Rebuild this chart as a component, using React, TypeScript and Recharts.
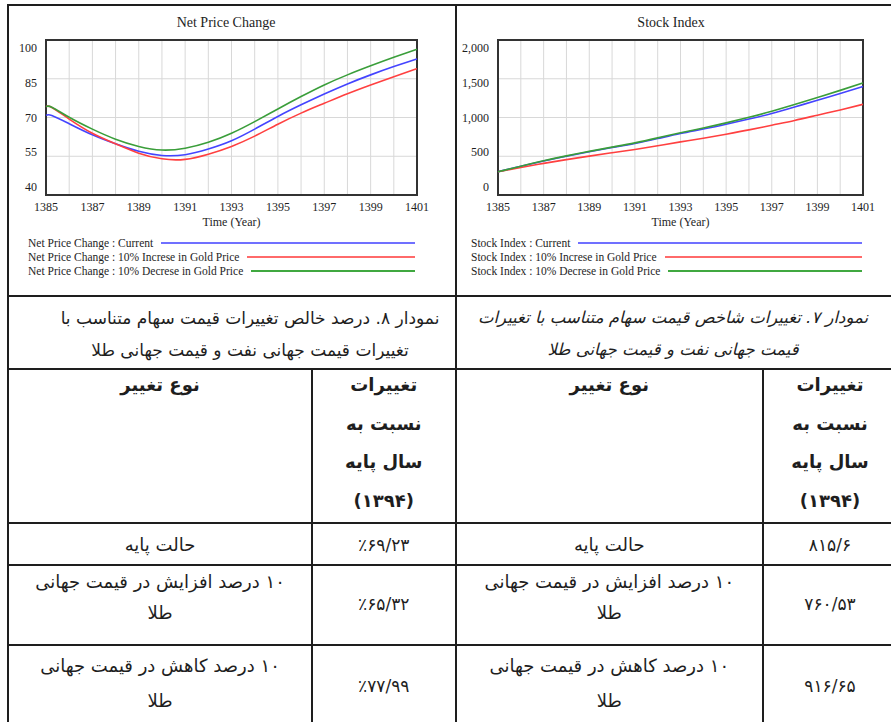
import React from 'react';
import { LineChart, Line, XAxis, YAxis, CartesianGrid, ReferenceArea } from 'recharts';

// simulation time (years)
const times = [1385, 1385.25, 1386, 1387, 1388, 1389, 1390, 1391, 1392, 1393, 1394, 1395, 1396, 1397, 1398, 1399, 1400, 1401];
const years = [1385, 1386, 1387, 1388, 1389, 1390, 1391, 1392, 1393, 1394, 1395, 1396, 1397, 1398, 1399, 1400, 1401];

const netCurrent = [70.8, 70.8, 67.6, 63.3, 59.8, 56.9, 55.3, 55.6, 57.8, 61.0, 65.5, 70.4, 74.9, 79.1, 83.0, 86.5, 89.7, 92.7];
const netIncrease = [74.2, 73.9, 69.4, 63.9, 59.8, 56.2, 54.0, 53.8, 55.8, 58.8, 62.8, 67.4, 71.7, 75.5, 79.2, 82.6, 85.8, 88.9];
const netDecrease = [74.2, 74.0, 70.1, 65.5, 61.6, 58.8, 57.4, 58.1, 60.4, 63.9, 68.4, 73.3, 78.1, 82.6, 86.5, 90.0, 93.3, 96.4];

const stockCurrent = [300, 318, 370, 438, 500, 558, 612, 665, 728, 794, 852, 914, 980, 1051, 1135, 1223, 1310, 1400];
const stockIncrease = [300, 314, 355, 408, 456, 502, 545, 588, 636, 685, 733, 785, 840, 901, 962, 1030, 1098, 1170];
const stockDecrease = [300, 318, 372, 442, 505, 563, 618, 673, 737, 803, 865, 931, 1003, 1081, 1167, 1258, 1350, 1446];

const netTicks = [40, 55, 70, 85, 100];
const stockTicks = [0, 500, 1000, 1500, 2000];

const scenarios = ['Current', '10% Increse in Gold Price', '10% Decrese in Gold Price'];
const colors = ['#4444ff', '#ff4040', '#3a9e3a'];
const legendColors = ['#7070ff', '#ff6a6a', '#40a840'];

// tables under the charts
const leftRows = [
  { label: ['حالت پایه'], value: '٪۶۹/۲۳' },
  { label: ['۱۰ درصد افزایش در قیمت جهانی', 'طلا'], value: '٪۶۵/۳۲' },
  { label: ['۱۰ درصد کاهش در قیمت جهانی', 'طلا'], value: '٪۷۷/۹۹' },
];
const rightRows = [
  { label: ['حالت پایه'], value: '۸۱۵/۶' },
  { label: ['۱۰ درصد افزایش در  قیمت جهانی', 'طلا'], value: '۷۶۰/۵۳' },
  { label: ['۱۰ درصد کاهش در  قیمت جهانی', 'طلا'], value: '۹۱۶/۶۵' },
];
const headValue = ['تغییرات', 'نسبت به', 'سال پایه', '(۱۳۹۴)'];
const headLabel = 'نوع تغییر';

const serif = '"Liberation Serif", "Times New Roman", serif';
const persian = '"DejaVu Sans", sans-serif';
const ink = '#1e1e1e';

const buildRows = (a: number[], b: number[], c: number[]) =>
  times.map((t, i) => ({ t, current: a[i], increase: b[i], decrease: c[i] }));

const netData = buildRows(netCurrent, netIncrease, netDecrease);
const stockData = buildRows(stockCurrent, stockIncrease, stockDecrease);

const keys = ['current', 'increase', 'decrease'];

const PLOT_TOP = 40;
const PLOT_BOTTOM = 195;

function SimChart({ data, domain, ticks, fmt, width, yWidth, right }: any) {
  const mid = (PLOT_TOP + PLOT_BOTTOM) / 2;
  return (
    <LineChart width={width} height={232} data={data} margin={{ top: PLOT_TOP, right, bottom: 0, left: 0 }}>
      <CartesianGrid stroke="#d8d8d8" strokeWidth={1} />
      <XAxis
        dataKey="t"
        type="number"
        domain={[1385, 1401]}
        ticks={years}
        interval={0}
        tickLine={false}
        axisLine={false}
        height={37}
        tick={(p: any) =>
          (p.payload.value - 1385) % 2 === 0 ? (
            <text x={p.x} y={207} textAnchor="middle" dominantBaseline="central" fontSize={12} fontFamily={serif} fill={ink}>
              {p.payload.value}
            </text>
          ) : (
            <g />
          )
        }
        label={{ value: 'Time (Year)', position: 'insideBottom', offset: 6, fontSize: 12, fontFamily: serif, fill: ink }}
      />
      <YAxis
        type="number"
        domain={domain}
        ticks={ticks}
        interval={0}
        tickLine={false}
        axisLine={false}
        width={yWidth}
        tick={(p: any) => (
          <text
            x={yWidth - 9}
            y={mid + (p.y - mid) * 0.9}
            textAnchor="end"
            dominantBaseline="central"
            fontSize={12}
            fontFamily={serif}
            fill={ink}
          >
            {fmt(p.payload.value)}
          </text>
        )}
      />
      {keys.map((k, i) => (
        <Line key={k} type="natural" dataKey={k} stroke={colors[i]} strokeWidth={1.6} dot={false} isAnimationActive={false} />
      ))}
      <ReferenceArea x1={1385} x2={1401} y1={domain[0]} y2={domain[1]} fill="none" stroke="#333" strokeWidth={2} ifOverflow="visible" />
    </LineChart>
  );
}

function SimLegend({ left, width, prefix }: any) {
  return (
    <div style={{ position: 'absolute', left, top: 236, width, fontFamily: serif, fontSize: 11.5, color: ink }}>
      {scenarios.map((s, i) => (
        <div key={s} style={{ display: 'flex', alignItems: 'center', height: 14.2 }}>
          <span style={{ whiteSpace: 'nowrap' }}>{`${prefix} : ${s}`}</span>
          <div style={{ flex: 1, marginLeft: 8, height: 2, background: legendColors[i] }} />
        </div>
      ))}
    </div>
  );
}

const hLine = (y: number, x1: number, x2: number, key: string, w = 1.5) => (
  <div key={key} style={{ position: 'absolute', left: x1, top: y - w / 2, width: x2 - x1, height: w, background: ink }} />
);
const vLine = (x: number, y1: number, y2: number, key: string, w = 1.5) => (
  <div key={key} style={{ position: 'absolute', left: x - w / 2, top: y1, width: w, height: y2 - y1, background: ink }} />
);

function Cell({ x1, x2, top, lines, bold, lh, size, italic }: any) {
  return (
    <div
      dir="rtl"
      style={{
        position: 'absolute',
        left: x1,
        width: x2 - x1,
        top,
        textAlign: 'center',
        fontFamily: persian,
        fontWeight: bold ? 'bold' : 'normal',
        fontStyle: italic ? 'italic' : 'normal',
        fontSize: size,
        lineHeight: `${lh}px`,
        color: ink,
        whiteSpace: 'nowrap',
      }}
    >
      {lines.map((l: string, i: number) => (
        <div key={i}>{l}</div>
      ))}
    </div>
  );
}

// row boundaries of the tables
const rowTops = [523, 565, 645];
const labelTops = [529, 566, 648];
const valueCenters = [545, 604, 686];

function Table({ x1, xm, x2, rows }: any) {
  // x1..xm : change type column, xm..x2 : value column
  return (
    <>
      <Cell x1={x1} x2={xm} top={369} lines={[headLabel]} bold lh={32} size={18} />
      <Cell x1={xm} x2={x2} top={366} lines={headValue} bold lh={38.5} size={18} />
      {rows.map((r: any, i: number) => (
        <React.Fragment key={i}>
          <Cell x1={x1} x2={xm} top={labelTops[i]} lines={r.label} lh={i === 2 ? 35 : 31} size={18} />
          <Cell x1={xm} x2={x2} top={valueCenters[i] - 16} lines={[r.value]} lh={32} size={17} />
        </React.Fragment>
      ))}
    </>
  );
}

export default function App() {
  const grid = [
    hLine(4.5, 8, 891, 'top', 2),
    vLine(8, 4, 722, 'left', 2),
    vLine(455.5, 4, 722, 'mid', 2),
    hLine(296, 8, 891, 'h1', 2),
    hLine(369, 8, 891, 'h2', 2),
    ...rowTops.map((y, i) => hLine(y, 8, 891, `r${i}`)),
    vLine(312, 369, 722, 'c1'),
    vLine(763, 369, 722, 'c2'),
  ];
  return (
    <div style={{ position: 'fixed', left: 0, top: 0, width: 891, height: 722, background: '#fff', overflow: 'hidden' }}>
      <div style={{ position: 'absolute', left: 0, top: 0 }}>
        <SimChart data={netData} domain={[40, 100]} ticks={netTicks} fmt={(v: number) => String(v)} width={455} yWidth={46} right={38} />
      </div>
      <div style={{ position: 'absolute', left: 455, top: 0 }}>
        <SimChart
          data={stockData}
          domain={[0, 2000]}
          ticks={stockTicks}
          fmt={(v: number) => v.toLocaleString('en-US')}
          width={436}
          yWidth={43}
          right={28}
        />
      </div>
      <div style={{ position: 'absolute', left: 126, width: 200, top: 15, textAlign: 'center', fontFamily: serif, fontSize: 14, color: ink }}>
        Net Price Change
      </div>
      <div style={{ position: 'absolute', left: 571, width: 200, top: 15, textAlign: 'center', fontFamily: serif, fontSize: 14, color: ink }}>
        Stock Index
      </div>
      <SimLegend left={28} width={387} prefix="Net Price Change" />
      <SimLegend left={471} width={391} prefix="Stock Index" />

      <Cell x1={30} x2={470} top={302} lines={['نمودار ۸. درصد خالص تغییرات قیمت سهام متناسب با', 'تغییرات قیمت جهانی نفت و قیمت جهانی طلا']} lh={32} size={17} />
      <Cell x1={460} x2={886} top={302} italic lines={['نمودار ۷. تغییرات شاخص قیمت سهام متناسب با تغییرات', 'قیمت جهانی نفت و قیمت جهانی طلا']} lh={32} size={16.5} />

      <Table x1={8} xm={312} x2={455.5} rows={leftRows} />
      <Table x1={455.5} xm={763} x2={897} rows={rightRows} />
      {grid}
    </div>
  );
}
